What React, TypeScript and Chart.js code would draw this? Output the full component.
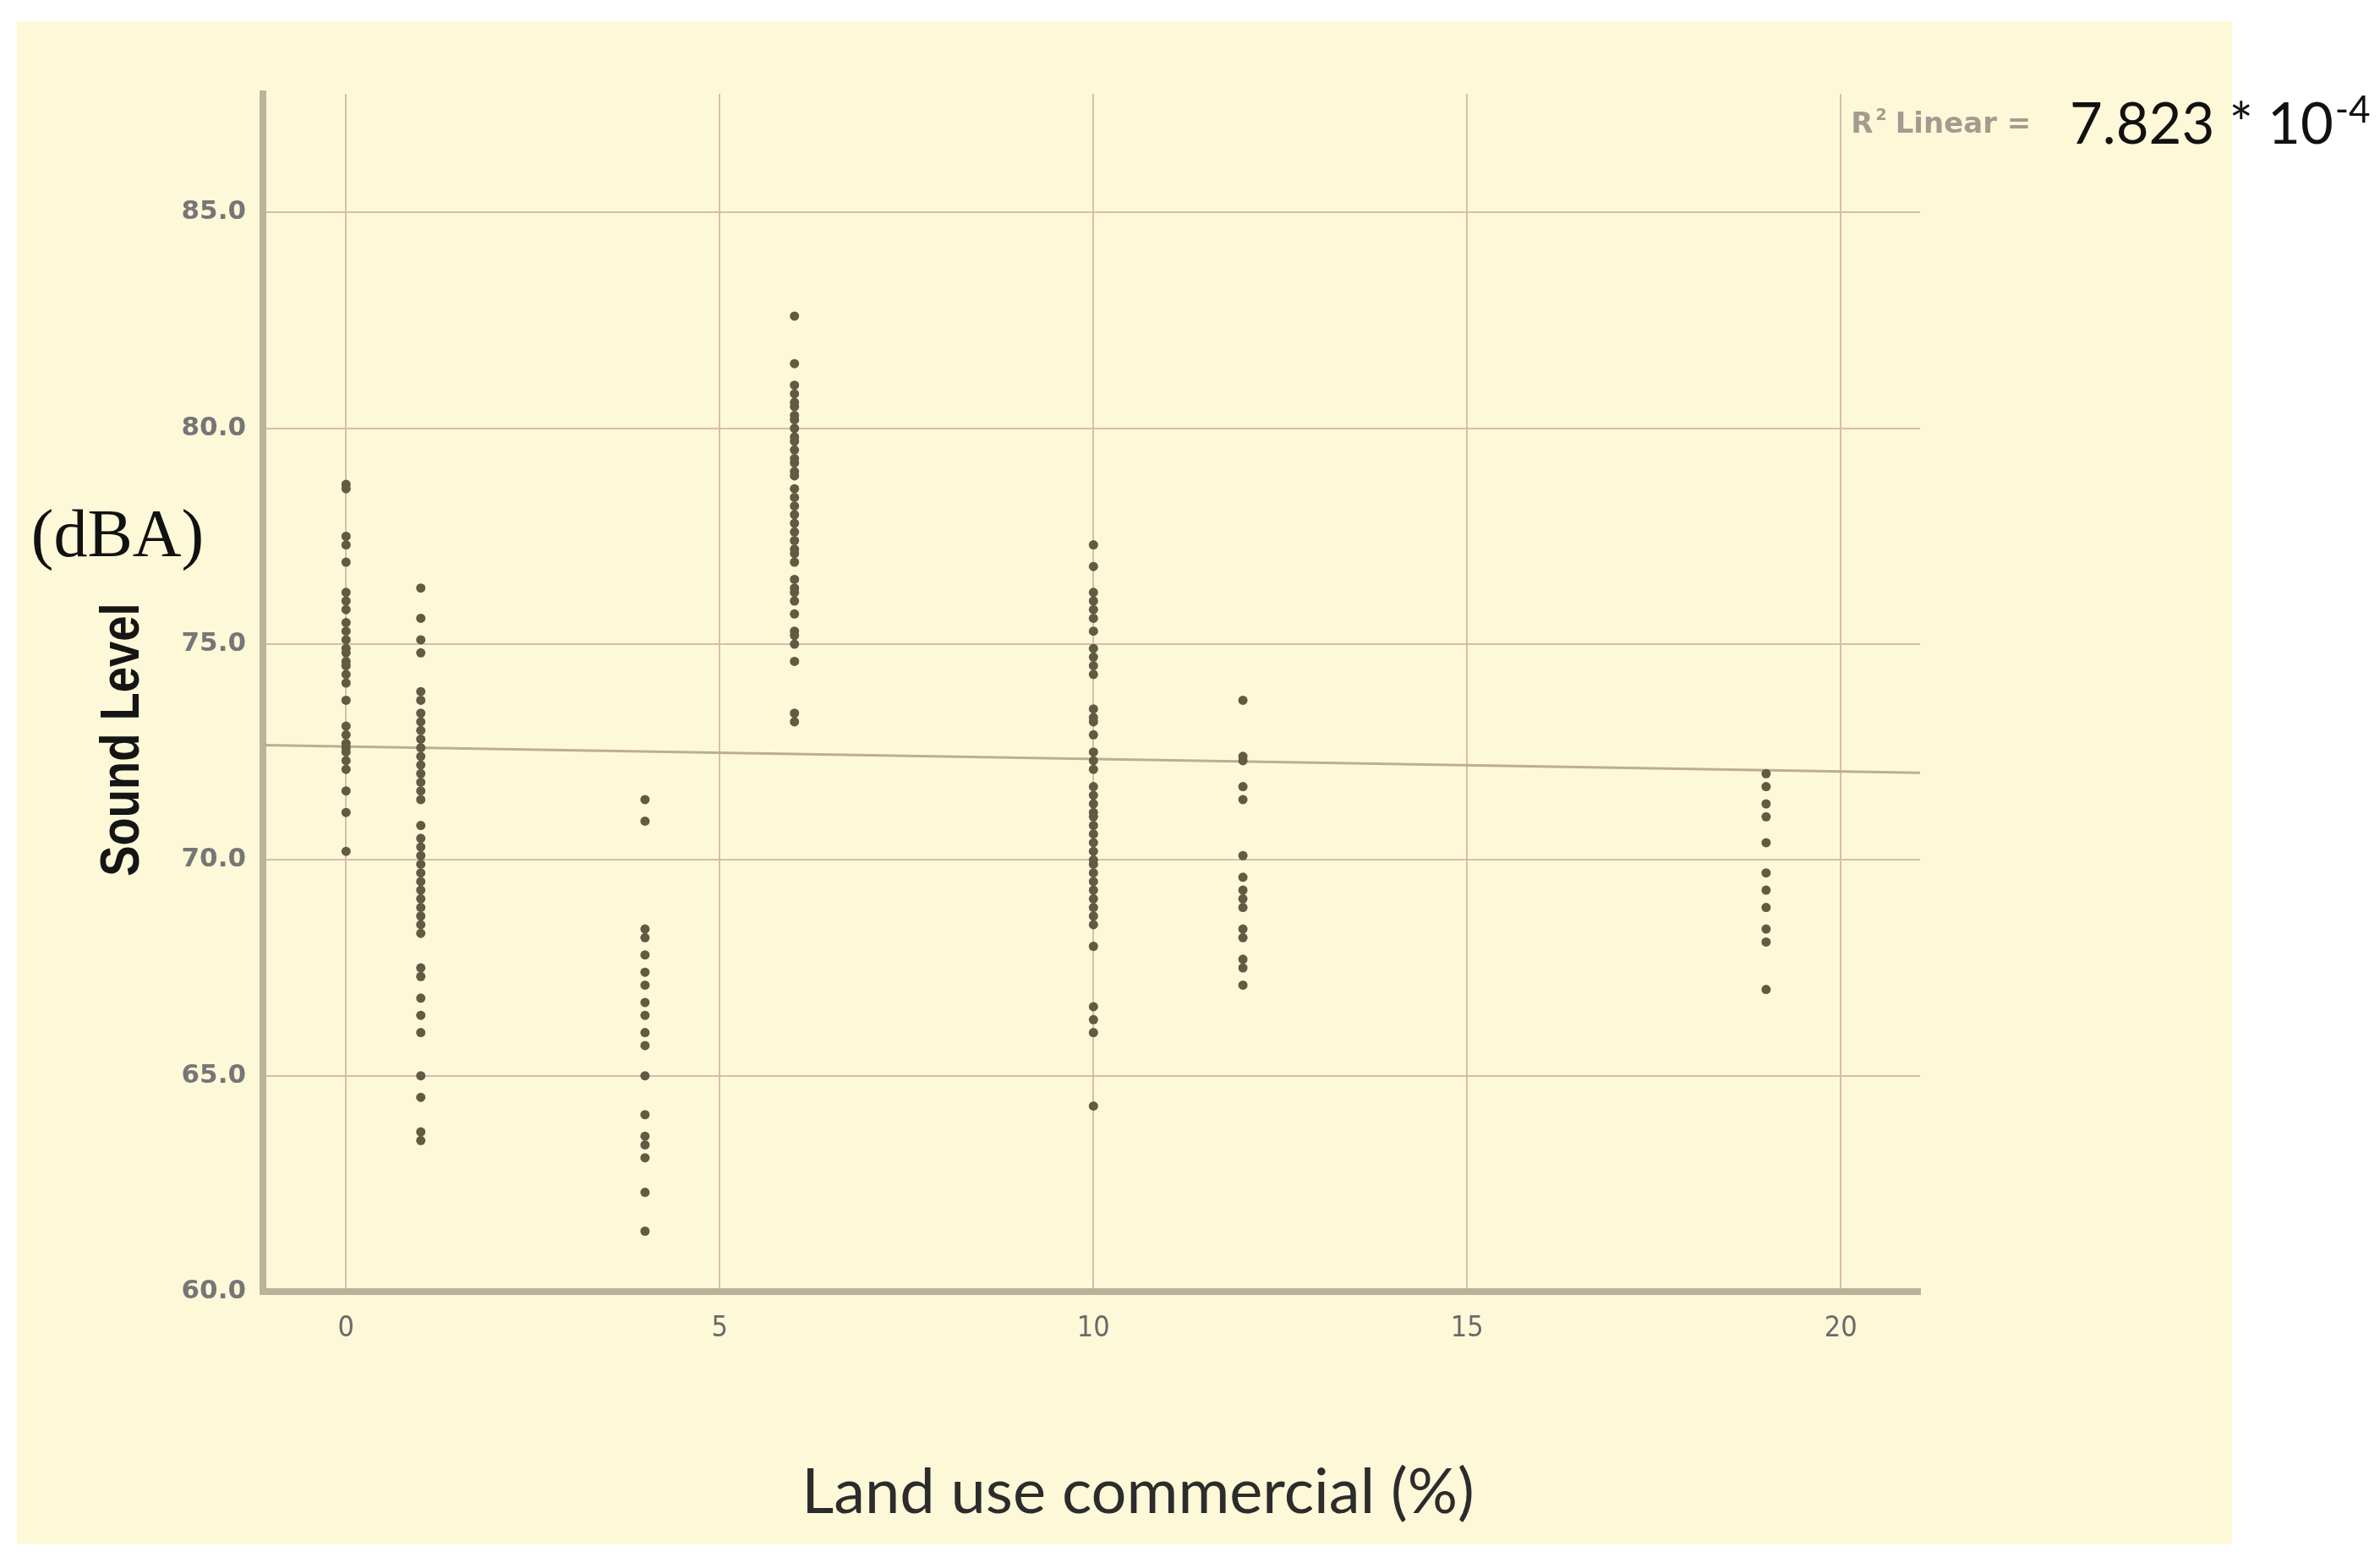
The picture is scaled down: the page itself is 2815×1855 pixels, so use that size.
import React, { useEffect, useRef } from "react";
import { Chart, registerables } from "chart.js";

Chart.register(...registerables);

// ---- Data ----
const LAND_USE_LEVELS = [0, 1, 4, 6, 10, 12, 19];

const SOUND_AT_0 = [78.7, 78.6, 77.5, 77.3, 76.9, 76.2, 76.0, 75.8, 75.5, 75.3, 75.1, 74.9, 74.8, 74.6, 74.5, 74.3, 74.1, 73.7, 73.1, 72.9, 72.7, 72.6, 72.5, 72.3, 72.1, 71.6, 71.1, 70.2];
const SOUND_AT_1 = [76.3, 75.6, 75.1, 74.8, 73.9, 73.7, 73.4, 73.2, 73.0, 72.8, 72.6, 72.4, 72.2, 72.0, 71.8, 71.6, 71.4, 70.8, 70.5, 70.3, 70.1, 69.9, 69.7, 69.5, 69.3, 69.1, 68.9, 68.7, 68.5, 68.3, 67.5, 67.3, 66.8, 66.4, 66.0, 65.0, 64.5, 63.7, 63.5];
const SOUND_AT_4 = [71.4, 70.9, 68.4, 68.2, 67.8, 67.4, 67.1, 66.7, 66.4, 66.0, 65.7, 65.0, 64.1, 63.6, 63.4, 63.1, 62.3, 61.4];
const SOUND_AT_6 = [82.6, 81.5, 81.0, 80.8, 80.6, 80.5, 80.3, 80.2, 80.0, 79.8, 79.7, 79.5, 79.3, 79.2, 79.0, 78.9, 78.6, 78.4, 78.2, 78.0, 77.8, 77.6, 77.4, 77.2, 77.1, 76.9, 76.5, 76.3, 76.2, 76.0, 75.7, 75.3, 75.2, 75.0, 74.6, 73.4, 73.2];
const SOUND_AT_10 = [77.3, 76.8, 76.2, 76.0, 75.8, 75.6, 75.3, 74.9, 74.7, 74.5, 74.3, 73.5, 73.3, 73.2, 72.9, 72.5, 72.3, 72.1, 71.7, 71.5, 71.3, 71.1, 71.0, 70.8, 70.6, 70.4, 70.2, 70.0, 69.9, 69.7, 69.5, 69.3, 69.1, 68.9, 68.7, 68.5, 68.0, 66.6, 66.3, 66.0, 64.3];
const SOUND_AT_12 = [73.7, 72.4, 72.3, 71.7, 71.4, 70.1, 69.6, 69.3, 69.1, 68.9, 68.4, 68.2, 67.7, 67.5, 67.1];
const SOUND_AT_19 = [72.0, 71.7, 71.3, 71.0, 70.4, 69.7, 69.3, 68.9, 68.4, 68.1, 67.0];

const SOUND_GROUPS = [SOUND_AT_0, SOUND_AT_1, SOUND_AT_4, SOUND_AT_6, SOUND_AT_10, SOUND_AT_12, SOUND_AT_19];

// Linear fit line (as drawn in the reference)
const FIT_INTERCEPT = 72.63;
const FIT_SLOPE = -0.029;

const X_TICKS = [0, 5, 10, 15, 20];
const Y_TICKS = [60, 65, 70, 75, 80, 85];
const X_RANGE = [-1.112, 21.06];
const Y_RANGE = [60, 87.75];

const X_TITLE = "Land use commercial (%)";
const Y_TITLE = "Sound Level";
const Y_UNIT = "(dBA)";
const R2_LABEL = "Linear =";
const R2_VALUE = "7.823 * 10";
const R2_EXP = "-4";

const W = 2815;
const H = 1855;

const textPlugin = {
  id: "customText",
  afterDraw(chart: any) {
    const ctx = chart.ctx;
    const area = chart.chartArea;
    ctx.save();

    // (dBA)
    ctx.fillStyle = "#111111";
    ctx.font = "80px 'Liberation Serif', 'Times New Roman', serif";
    ctx.textAlign = "center";
    ctx.textBaseline = "middle";
    ctx.fillText(Y_UNIT, 139, 637);

    // Sound Level (rotated, condensed)
    ctx.save();
    ctx.translate(146, 875);
    ctx.rotate(-Math.PI / 2);
    ctx.scale(0.85, 1);
    ctx.font = "bold 64px 'Liberation Sans', Arial, sans-serif";
    ctx.fillStyle = "#151515";
    ctx.textAlign = "center";
    ctx.textBaseline = "middle";
    ctx.fillText(Y_TITLE, 0, 0);
    ctx.restore();

    // X title
    ctx.font = "74px Lato, 'Open Sans', sans-serif";
    ctx.fillStyle = "#2c2c2c";
    ctx.textAlign = "center";
    ctx.textBaseline = "middle";
    ctx.fillText(X_TITLE, (area.left + area.right) / 2 + 55, 1766);

    // R² Linear =
    const rx = chart.scales.x.getPixelForValue(20) + 12;
    const rb = 157;
    ctx.textAlign = "left";
    ctx.textBaseline = "alphabetic";
    ctx.fillStyle = "#a39c8e";
    ctx.font = "bold 34px 'DejaVu Sans', sans-serif";
    ctx.fillText("R", rx, rb);
    let cx = rx + ctx.measureText("R").width + 3;
    ctx.font = "bold 19px 'DejaVu Sans', sans-serif";
    ctx.fillText("2", cx, rb - 15);
    cx += ctx.measureText("2").width + 10;
    ctx.font = "bold 34px 'DejaVu Sans', sans-serif";
    ctx.fillText(R2_LABEL, cx, rb);

    // 7.823 * 10^-4
    ctx.fillStyle = "#111111";
    ctx.font = "67px Lato, 'Open Sans', sans-serif";
    ctx.fillText(R2_VALUE, 2448, 170);
    const vx = 2448 + ctx.measureText(R2_VALUE).width + 2;
    ctx.font = "44px Lato, 'Open Sans', sans-serif";
    ctx.fillText(R2_EXP, vx, 145);

    ctx.restore();
  },
};

export default function App() {
  const canvasRef = useRef<HTMLCanvasElement | null>(null);

  useEffect(() => {
    if (!canvasRef.current) return;
    const points: { x: number; y: number }[] = [];
    LAND_USE_LEVELS.forEach((lx, i) => {
      SOUND_GROUPS[i].forEach((v) => points.push({ x: lx, y: v }));
    });
    const fitLine = X_RANGE.map((x) => ({ x, y: FIT_INTERCEPT + FIT_SLOPE * x }));

    const gridColor = "#D8BCAC";
    const axisColor = "#BBB399";

    const chart = new Chart(canvasRef.current, {
      type: "scatter",
      data: {
        datasets: [
          {
            type: "line",
            data: fitLine,
            borderColor: "#BEAB98",
            borderWidth: 3,
            pointRadius: 0,
            fill: false,
            order: 2,
          } as any,
          {
            type: "scatter",
            data: points,
            backgroundColor: "#625A43",
            borderWidth: 0,
            pointRadius: 5.5,
            order: 1,
          } as any,
        ],
      },
      options: {
        responsive: false,
        animation: false,
        devicePixelRatio: 1,
        layout: { padding: { top: 111, right: W - 2271, left: 0, bottom: 0 } },
        plugins: { legend: { display: false }, tooltip: { enabled: false } },
        scales: {
          x: {
            type: "linear",
            min: X_RANGE[0],
            max: X_RANGE[1],
            afterFit(s: any) {
              s.height = H - 1528;
            },
            afterBuildTicks(s: any) {
              s.ticks = X_TICKS.map((v) => ({ value: v }));
            },
            grid: { color: gridColor, lineWidth: 2, drawTicks: false },
            border: { display: true, color: axisColor, width: 8 },
            ticks: {
              padding: 24,
              color: "#6a6a6a",
              font: { family: "'DejaVu Sans Condensed', 'Liberation Sans', sans-serif", size: 34 },
              callback: (v: any) => String(v),
            },
          },
          y: {
            type: "linear",
            min: Y_RANGE[0],
            max: Y_RANGE[1],
            afterFit(s: any) {
              s.width = 311;
            },
            afterBuildTicks(s: any) {
              s.ticks = Y_TICKS.map((v) => ({ value: v }));
            },
            grid: { color: gridColor, lineWidth: 2, drawTicks: false },
            border: { display: true, color: axisColor, width: 8 },
            ticks: {
              padding: 20,
              color: "#767676",
              font: { family: "'DejaVu Sans', sans-serif", size: 31, weight: "bold" },
              callback: (v: any) => Number(v).toFixed(1),
            },
          },
        },
      },
      plugins: [textPlugin],
    });
    return () => chart.destroy();
  }, []);

  return (
    <div style={{ position: "absolute", left: 0, top: 0, width: W, height: H, background: "#ffffff" }}>
      <div style={{ position: "absolute", left: 20, top: 25, width: 2620, height: 1802, background: "#FDF9D8" }} />
      <canvas
        ref={canvasRef}
        width={W}
        height={H}
        style={{ position: "absolute", left: 0, top: 0, width: W, height: H, display: "block" }}
      />
    </div>
  );
}
